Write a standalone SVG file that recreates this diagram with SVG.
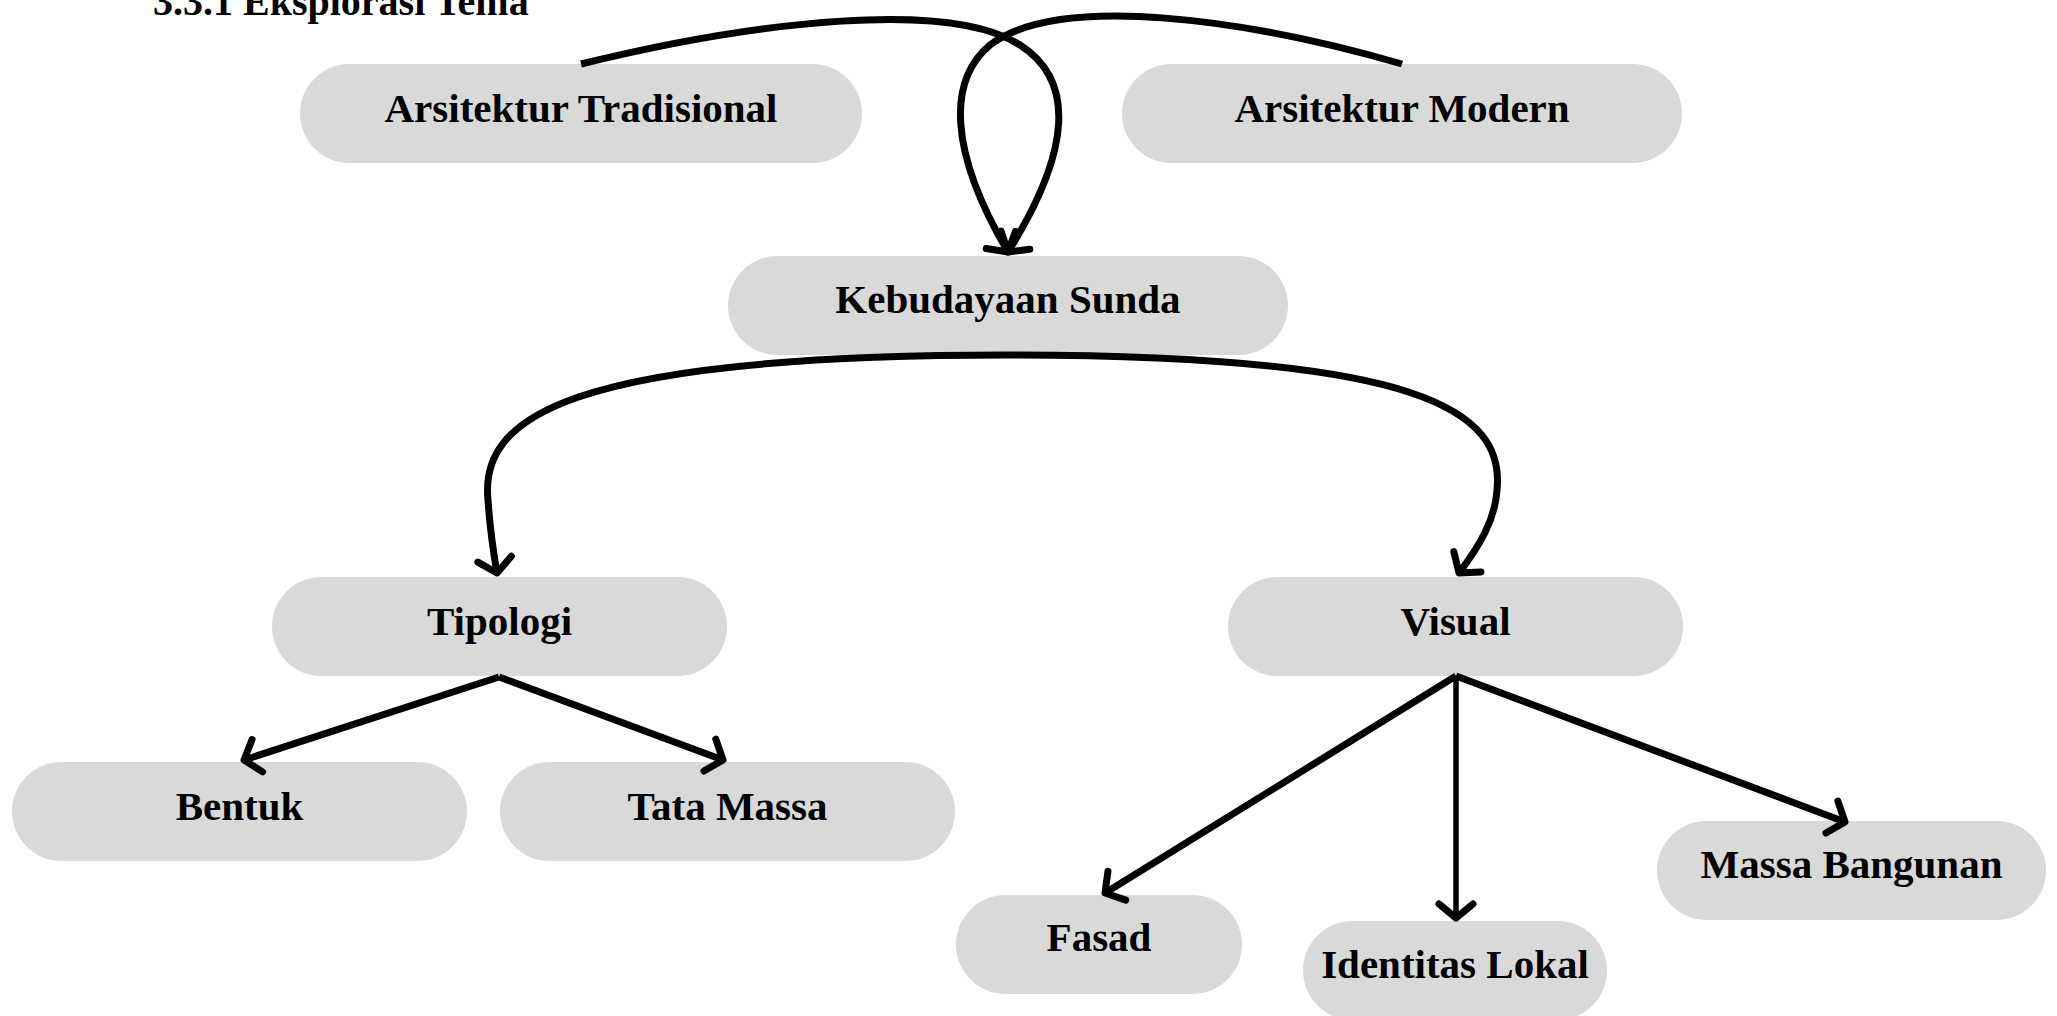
<svg xmlns="http://www.w3.org/2000/svg" width="2057" height="1016" viewBox="0 0 2057 1016">
<style>
.node rect{fill:#d9d9d9;}
.node text,.title{font-family:"Liberation Serif","DejaVu Serif",serif;font-weight:bold;font-size:41px;fill:#000;text-anchor:middle;}
.title{text-anchor:start;font-size:40px;}
.conn path{fill:none;stroke:#000;stroke-width:7;stroke-linecap:butt;stroke-linejoin:round;marker-end:url(#arr);}
</style>
<defs>
<marker id="arr" markerUnits="userSpaceOnUse" markerWidth="40" markerHeight="50" viewBox="-20 -25 30 50" refX="0" refY="0" orient="auto" overflow="visible">
<path d="M-14,-17 L0,0 L-14,17" fill="none" stroke="#000" stroke-width="7" stroke-linecap="round" stroke-linejoin="round"/>
</marker>
</defs>
<rect width="2057" height="1016" fill="#fff"/>
<text class="title" x="153" y="15">3.3.1 Eksplorasi Tema</text>
<g id="n-trad" class="node"><rect x="300" y="64" width="562" height="99" rx="49.5"/><text x="581" y="122">Arsitektur Tradisional</text></g>
<g id="n-modern" class="node"><rect x="1122" y="64" width="560" height="99" rx="49.5"/><text x="1402" y="122">Arsitektur Modern</text></g>
<g id="n-sunda" class="node"><rect x="728" y="256" width="560" height="99" rx="49.5"/><text x="1008" y="313">Kebudayaan Sunda</text></g>
<g id="n-tipologi" class="node"><rect x="272" y="577" width="455" height="99" rx="49.5"/><text x="499.5" y="635">Tipologi</text></g>
<g id="n-visual" class="node"><rect x="1228" y="577" width="455" height="99" rx="49.5"/><text x="1455.5" y="635">Visual</text></g>
<g id="n-bentuk" class="node"><rect x="12" y="762" width="455" height="99" rx="49.5"/><text x="239.5" y="820">Bentuk</text></g>
<g id="n-tata" class="node"><rect x="500" y="762" width="455" height="99" rx="49.5"/><text x="727.5" y="820">Tata Massa</text></g>
<g id="n-fasad" class="node"><rect x="956" y="895" width="286" height="99" rx="49.5"/><text x="1099" y="951">Fasad</text></g>
<g id="n-identitas" class="node"><rect x="1303" y="921" width="304" height="99" rx="49.5"/><text x="1455" y="978">Identitas Lokal</text></g>
<g id="n-massa" class="node"><rect x="1657" y="821" width="389" height="99" rx="49.5"/><text x="1851.5" y="878">Massa Bangunan</text></g>
<g id="connectors" class="conn">
<path d="M581,64 C760,20 950,0 1020,45 C1075,80 1072,150 1008,252"/>
<path d="M1402,64 C1250,20 1060,-8 990,45 C948,80 948,150 1008,252"/>
<path d="M1008,355 C560,355 480,420 488,500 C490,530 493,550 497,573"/>
<path d="M1008,355 C1420,355 1505,410 1497,490 C1495,520 1480,545 1459,573"/>
<path d="M499,677 L244,760"/>
<path d="M499,677 L723,760"/>
<path d="M1456,676 L1105,893"/>
<path d="M1456,676 L1456,918" style="stroke-width:5.5"/>
<path d="M1456,676 L1845,822"/>
</g>
</svg>
